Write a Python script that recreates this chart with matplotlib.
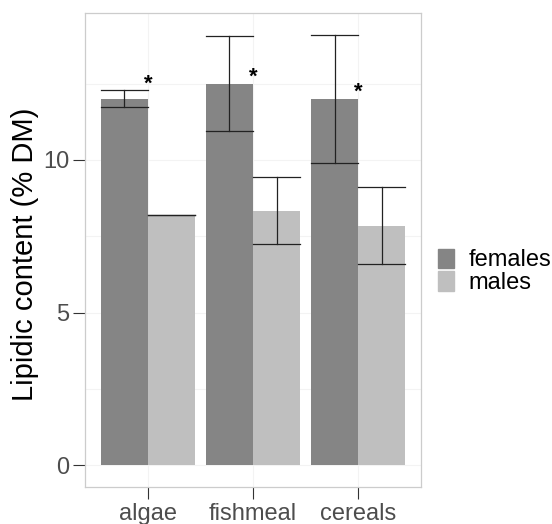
import numpy as np
import matplotlib
matplotlib.use("Agg")
import matplotlib.pyplot as plt
from matplotlib.patches import Patch

plt.rcParams['font.family'] = ['Liberation Sans', 'DejaVu Sans']

# valores
diets = ['algae', 'fishmeal', 'cereals']
females_mean = [12.0, 12.5, 12.0]
females_err = [0.28, 1.55, 2.1]
males_mean = [8.2, 8.34, 7.84]
males_err = [0.0, 1.1, 1.26]
star_y = [12.47, 12.72, 12.22]  # altura dos asteriscos
yticks = [0, 5, 10]

col_f = '#858585'
col_m = '#bfbfbf'
w = 0.45

fig = plt.figure(figsize=(5.52, 5.24), dpi=100)
ax = fig.add_axes([0.154, 0.0706, 0.609, 0.9044])

x = np.arange(1, len(diets) + 1)
xf = x - w / 2
xm = x + w / 2

ax.bar(xf, females_mean, width=w, color=col_f, zorder=2)
ax.bar(xm, males_mean, width=w, color=col_m, zorder=2)

# barras de erro com a largura da barra
for xs, m, e in [(xf, females_mean, females_err), (xm, males_mean, males_err)]:
    for xi, mi, ei in zip(xs, m, e):
        ax.plot([xi, xi], [mi - ei, mi + ei], color='#222222', lw=0.9, zorder=3)
        ax.plot([xi - w / 2, xi + w / 2], [mi + ei] * 2, color='#222222', lw=0.9, zorder=3)
        ax.plot([xi - w / 2, xi + w / 2], [mi - ei] * 2, color='#222222', lw=0.9, zorder=3)

for xi, yi in zip(x, star_y):
    ax.text(xi, yi, '*', ha='center', va='center', fontsize=16, fontweight='bold',
            color='black', zorder=4)

ymax = max(np.array(females_mean) + np.array(females_err))
pad = ymax * 0.05
ax.set_ylim(-pad, ymax + pad)
ax.set_xlim(0.4, 3.6)

ax.set_yticks(yticks)
ax.set_yticks([2.5, 7.5, 12.5], minor=True)
ax.set_xticks(x)
ax.set_xticklabels(diets)
ax.grid(True, which='both', color='#f3f3f3', lw=0.8, zorder=0)
ax.tick_params(which='minor', length=0)
ax.tick_params(which='major', length=8.5, width=0.8, color='#333333',
               labelsize=17, labelcolor='#4d4d4d', pad=3)

for s in ax.spines.values():
    s.set_color('#cccccc')
    s.set_linewidth(0.9)

ax.set_ylabel('Lipidic content (% DM)', fontsize=21)
ax.yaxis.set_label_coords(-0.137, 0.49)

handles = [Patch(color=col_f, label='females'), Patch(color=col_m, label='males')]
ax.legend(handles=handles, loc='center left', bbox_to_anchor=(0.793, 0.482),
          bbox_transform=fig.transFigure, frameon=False, fontsize=17,
          handlelength=0.68, handleheight=0.89, handletextpad=0.64,
          labelspacing=0.0, borderpad=0, borderaxespad=0)

fig.savefig('out.png', dpi=100)
